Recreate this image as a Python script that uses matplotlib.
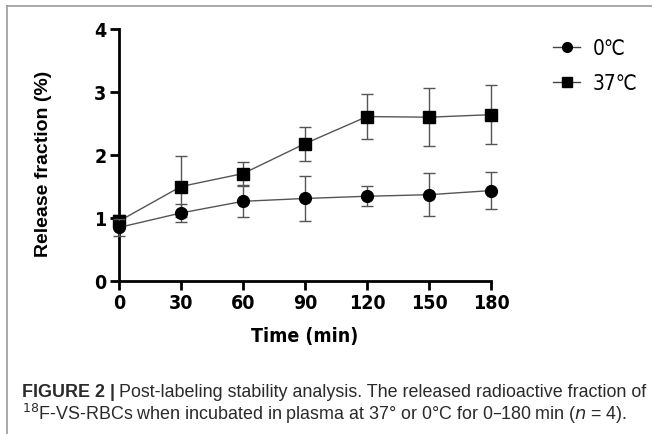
import matplotlib
matplotlib.use('Agg')
import matplotlib.pyplot as plt
from matplotlib.lines import Line2D

# data
times = [0, 30, 60, 90, 120, 150, 180]
cold_mean = [0.85, 1.08, 1.265, 1.31, 1.345, 1.37, 1.435]
cold_err = [0.13, 0.14, 0.25, 0.36, 0.16, 0.34, 0.29]
warm_mean = [0.95, 1.50, 1.705, 2.18, 2.61, 2.60, 2.64]
warm_err = [0.10, 0.48, 0.18, 0.27, 0.36, 0.46, 0.47]
series_labels = ['0\u2103', '37\u2103']

cond = ['DejaVu Sans']
plain = ['Liberation Sans', 'DejaVu Sans']

fig = plt.figure(figsize=(6.52, 4.35), dpi=100)
ax = fig.add_axes([119 / 652, 1 - 282 / 435, (491 - 119) / 652, (282 - 30) / 435])

ax.errorbar(times, warm_mean, yerr=warm_err, color='#555555', elinewidth=1.0,
            capsize=4, capthick=1.0, lw=1.0, marker='s', ms=8,
            mfc='black', mec='black', zorder=3)
ax.errorbar(times, cold_mean, yerr=cold_err, color='#555555', elinewidth=1.0,
            capsize=4, capthick=1.0, lw=1.0, marker='o', ms=8.5,
            mfc='black', mec='black', zorder=4)

ax.set_xlim(0, 180)
ax.set_ylim(0, 4)
ax.set_xticks(times)
ax.set_yticks([0, 1, 2, 3, 4])
for s in ['top', 'right']:
    ax.spines[s].set_visible(False)
for s in ['left', 'bottom']:
    ax.spines[s].set_linewidth(2)
ax.tick_params(width=2, length=6.5, direction='out', pad=2.5)
for lab in ax.get_xticklabels() + ax.get_yticklabels():
    lab.set_family(cond)
    lab.set_stretch('condensed')
    lab.set_fontweight('bold')
    lab.set_fontsize(14)
for art in ax.get_children():
    try:
        art.set_clip_on(False)
    except Exception:
        pass

ax.set_xlabel('Time (min)', family=cond, stretch='condensed', fontweight='bold',
              fontsize=14, labelpad=10)
fig.text(44 / 652, 1 - 164 / 435, 'Release fraction (%)', family=plain, fontweight='bold',
         fontsize=14, rotation=90, ha='center', va='center')

handles = [Line2D([], [], color='#444444', lw=1.0, marker='o', ms=7, mfc='black', mec='black'),
           Line2D([], [], color='#444444', lw=1.0, marker='s', ms=6.5, mfc='black', mec='black')]
fig.legend(handles, series_labels, loc='upper left', bbox_to_anchor=(0.82, 0.953),
           frameon=False, prop={'family': cond, 'stretch': 'condensed', 'size': 15},
           handlelength=1.3, handletextpad=0.6, labelspacing=0.72)

# frame lines of the figure panel
fig.add_artist(Line2D([7 / 652, 1.0], [1 - 7 / 435, 1 - 7 / 435], color='#999999', lw=1.2))
fig.add_artist(Line2D([7 / 652, 7 / 652], [0, 1 - 7 / 435], color='#999999', lw=1.2))

# caption
fig.canvas.draw()
r = fig.canvas.get_renderer()
t1 = fig.text(22 / 652, 1 - 393 / 435, 'FIGURE 2 |', family=plain, fontweight='bold',
              fontsize=12.9, va='center', color='#2a2a2a')
bb = t1.get_window_extent(r)
fig.text((bb.x1 + 4) / 652, 1 - 393 / 435,
         'Post-labeling stability analysis. The released radioactive fraction of',
         family=plain, fontsize=12.9, va='center', color='#2a2a2a')
fig.text(22 / 652, 1 - 414 / 435,
         '$^{18}$F-VS-RBCs when incubated in plasma at 37\u00b0 or 0\u00b0C for 0\u2013180\u2009min ($n$ = 4).',
         family=plain, fontsize=12.9, va='center', color='#2a2a2a')

fig.savefig('out.png', dpi=100)
